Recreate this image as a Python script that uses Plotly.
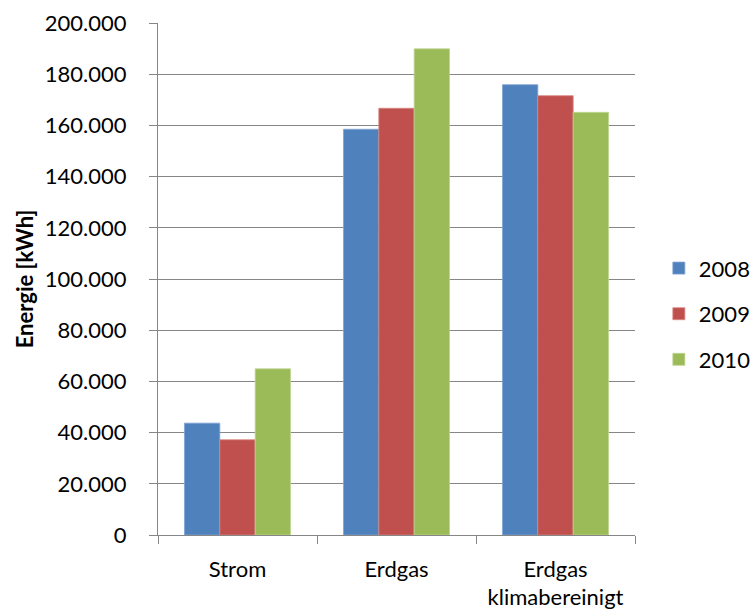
import plotly.graph_objects as go

# Energy consumption per carrier and year (kWh)
categories = ["Strom", "Erdgas", "Erdgas<br>klimabereinigt"]
years = ["2008", "2009", "2010"]
values_2008 = [43700, 158500, 175900]
values_2009 = [37200, 166700, 171600]
values_2010 = [64900, 189900, 165100]
colors = ["#4F81BD", "#C0504D", "#9BBB59"]
edge_colors = ["#7FA3D3", "#D98683", "#BDD58E"]

tick_vals = [0, 20000, 40000, 60000, 80000, 100000, 120000, 140000, 160000, 180000, 200000]
tick_text = ["0", "20.000", "40.000", "60.000", "80.000", "100.000", "120.000",
             "140.000", "160.000", "180.000", "200.000"]

FONT = "Lato"

fig = go.Figure()
for year, vals, col, edge in zip(years, [values_2008, values_2009, values_2010], colors, edge_colors):
    fig.add_trace(go.Bar(
        x=categories, y=vals, name=year, legendgroup=year,
        marker=dict(color=col, line=dict(color=edge, width=0.8)),
    ))

fig.update_layout(
    width=756, height=615,
    margin=dict(l=158, r=121, t=23, b=80, autoexpand=False),
    paper_bgcolor="white", plot_bgcolor="white",
    barmode="group", bargap=0.333, bargroupgap=0,
    font=dict(family=FONT, size=22, color="#000000"),
    legend=dict(
        x=1.05, xanchor="left", xref="paper", y=0.432, yanchor="middle",
        font=dict(family=FONT, size=22, color="#000000"),
        itemwidth=30, tracegroupgap=14, traceorder="grouped",
        bgcolor="rgba(0,0,0,0)",
    ),
    showlegend=True,
)

fig.update_yaxes(
    range=[0, 200000], tickvals=tick_vals, ticktext=tick_text,
    showgrid=True, gridcolor="#868686", gridwidth=1.3,
    showline=True, linecolor="#868686", linewidth=1.3,
    ticks="outside", ticklen=8, tickcolor="#868686", tickwidth=1.3,
    ticklabelstandoff=18, automargin=False,
    tickfont=dict(family=FONT, size=22, color="#000000"),
    zeroline=False,
    title=dict(text="<b>Energie [kWh]</b>", standoff=4,
               font=dict(family=FONT, size=22, color="#000000")),
)

fig.update_xaxes(
    showline=True, linecolor="#868686", linewidth=1.3,
    ticks="outside", ticklen=8, tickcolor="#868686", tickwidth=1.3,
    tickson="boundaries", ticklabelstandoff=14, automargin=False,
    tickfont=dict(family=FONT, size=22, color="#000000"),
    showgrid=False,
)

fig.write_html("out.html")
